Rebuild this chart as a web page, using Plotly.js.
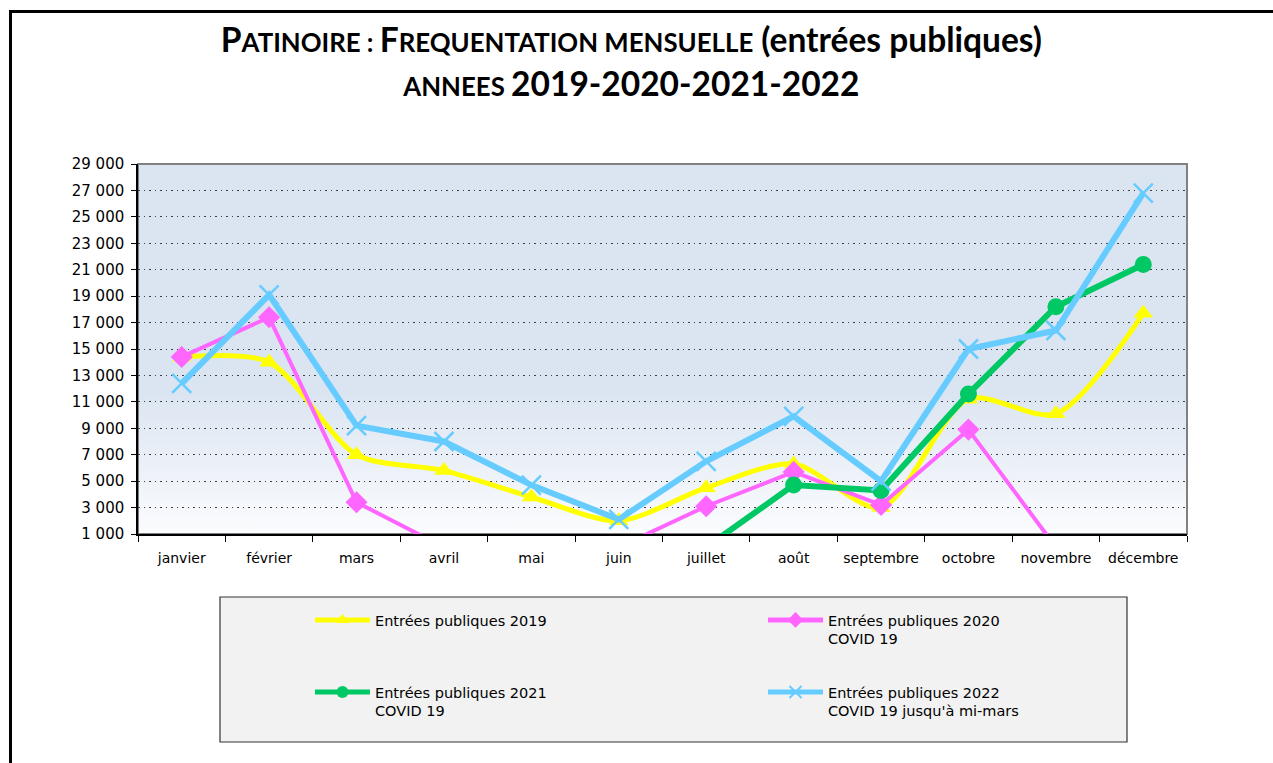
<!DOCTYPE html>
<html>
<head>
<meta charset="utf-8">
<script src="https://cdn.plot.ly/plotly-3.0.1.min.js"></script>
<style>
  html, body { margin: 0; padding: 0; background: #fff; overflow: hidden; }
  #chart { width: 1273px; height: 763px; position: absolute; left: 0; top: 0; }
  #frame { position: absolute; left: 9px; top: 10px; width: 1300px; height: 800px;
           border-left: 3px solid #000; border-top: 3px solid #000; pointer-events: none; }
</style>
</head>
<body>
<div id="chart"></div>
<div id="frame"></div>
<script>
// ---- Data ----
const months = ['janvier', 'février', 'mars', 'avril', 'mai', 'juin', 'juillet', 'août', 'septembre', 'octobre', 'novembre', 'décembre'];
const entrees2019 = [14400, 14000, 7000, 5800, 3800, 2000, 4500, 6300, 3000, 11200, 10100, 17700];
const entrees2020 = [14400, 17400, 3400, 0, 0, 0, 3100, 5700, 3200, 8900, 0, 0];
const entrees2021 = [0, 0, 0, 0, 0, 0, 0, 4700, 4300, 11600, 18200, 21400];
const entrees2022 = [12400, 19100, 9200, 8000, 4700, 2100, 6500, 9900, 5000, 15000, 16400, 26800];
const seriesNames = [
  'Entrées publiques 2019',
  'Entrées publiques 2020<br>COVID 19',
  'Entrées publiques 2021<br>COVID 19',
  'Entrées publiques 2022<br>COVID 19 jusqu\'à mi-mars'
];
const yMin = 1000, yMax = 29000, yStep = 2000;

// ---- Layout geometry (pixels) ----
const W = 1273, H = 763;
const plotL = 138, plotR = 1187, plotT = 164, plotB = 534;
const pw = plotR - plotL, ph = plotB - plotT;
const px2x = p => (p - plotL) / pw;
const px2y = p => (plotB - p) / ph;

const axisFont = { family: 'DejaVu Sans, sans-serif', size: 14, color: '#000' };
const legendFont = { family: 'DejaVu Sans, sans-serif', size: 14.5, color: '#000' };

const traces = [
  { name: seriesNames[0], x: months, y: entrees2019, type: 'scatter', mode: 'lines+markers',
    line: { color: '#ffff00', width: 5, shape: 'spline', smoothing: 0.8 },
    marker: { symbol: 'triangle-up', size: 17, color: '#ffff00' }, legend: 'legend' },
  { name: seriesNames[1], x: months, y: entrees2020, type: 'scatter', mode: 'lines+markers',
    line: { color: '#ff66ff', width: 4 },
    marker: { symbol: 'diamond', size: 17, color: '#ff66ff' }, legend: 'legend' },
  { name: seriesNames[2], x: months, y: entrees2021, type: 'scatter', mode: 'lines+markers',
    line: { color: '#00c864', width: 6 },
    marker: { symbol: 'circle', size: 17, color: '#00c864' }, legend: 'legend2' },
  { name: seriesNames[3], x: months, y: entrees2022, type: 'scatter', mode: 'lines+markers',
    line: { color: '#66ccff', width: 6 },
    marker: { symbol: 'x-thin', size: 19, color: '#66ccff', line: { color: '#66ccff', width: 2.5 } }, legend: 'legend2' }
];

const gradSvg = '<svg xmlns="http://www.w3.org/2000/svg" width="100" height="100" preserveAspectRatio="none">' +
  '<defs><linearGradient id="g" x1="0" y1="0" x2="0" y2="1">' +
  '<stop offset="0" stop-color="#dbe5f1"/><stop offset="0.62" stop-color="#dbe5f1"/>' +
  '<stop offset="1" stop-color="#fbfcfe"/></linearGradient></defs>' +
  '<rect width="100" height="100" fill="url(#g)"/></svg>';
const gradUri = 'data:image/svg+xml;base64,' + btoa(gradSvg);

const big = 33.5, small = 25.8;
const sc = t => '<span style="font-size:' + small + 'px">' + t + '</span>';
const titleText = 'P' + sc('ATINOIRE : ') + 'F' + sc('REQUENTATION MENSUELLE') + ' (entrées publiques)' +
  '<br>' + sc('ANNEES ') + '2019-2020-2021-2022';

const legendCommon = {
  orientation: 'h', xanchor: 'left', yanchor: 'top',
  bgcolor: 'rgba(0,0,0,0)', borderwidth: 0, font: legendFont,
  entrywidth: 383, entrywidthmode: 'pixels', valign: 'top',
  itemsizing: 'constant', itemwidth: 55, itemclick: false, itemdoubleclick: false
};

const layout = {
  width: W, height: H,
  margin: { l: plotL, r: W - plotR, t: plotT, b: H - plotB, pad: 0 },
  paper_bgcolor: '#ffffff',
  plot_bgcolor: 'rgba(0,0,0,0)',
  separators: ', ',
  showlegend: true,
  title: {
    text: titleText,
    font: { family: 'Lato, sans-serif', size: big, color: '#000', weight: 'bold' },
    x: 0.496, xref: 'container', xanchor: 'center',
    y: 1 - 52 / H, yref: 'container', yanchor: 'top'
  },
  xaxis: {
    type: 'category', range: [-0.5, months.length - 0.5], autorange: false,
    tickson: 'boundaries', ticks: 'outside', ticklen: 6, tickcolor: '#000', tickwidth: 1,
    showline: true, linecolor: '#000', linewidth: 1.5, showgrid: false, zeroline: false,
    tickangle: 0, tickfont: axisFont, ticklabelstandoff: 10, fixedrange: true
  },
  yaxis: {
    range: [yMin, yMax], autorange: false, tick0: yMin, dtick: yStep, ticks: 'outside', ticklen: 5, tickcolor: '#000',
    showline: true, linecolor: '#000', linewidth: 1.5, separatethousands: true, tickformat: ',d',
    showgrid: true, gridcolor: '#404040', griddash: '1.5px,4px', gridwidth: 1, zeroline: false,
    tickfont: { family: 'DejaVu Sans, sans-serif', size: 15, color: '#000' }, ticklabelstandoff: 4, fixedrange: true
  },
  images: [{
    source: gradUri, xref: 'paper', yref: 'paper', x: 0, y: 1, sizex: 1, sizey: 1,
    xanchor: 'left', yanchor: 'top', sizing: 'stretch', layer: 'below'
  }],
  shapes: [
    { type: 'rect', xref: 'paper', yref: 'paper', x0: 0, x1: 1, y0: 0, y1: 1,
      line: { color: '#808080', width: 2 }, fillcolor: 'rgba(0,0,0,0)', layer: 'below' },
    { type: 'rect', xref: 'paper', yref: 'paper',
      x0: px2x(220), x1: px2x(1127), y0: px2y(742), y1: px2y(597),
      line: { color: '#333', width: 1.2 }, fillcolor: '#f2f2f2', layer: 'below' }
  ],
  legend: Object.assign({}, legendCommon, { x: px2x(310), y: px2y(604) }),
  legend2: Object.assign({}, legendCommon, { x: px2x(310), y: px2y(676) })
};

Plotly.newPlot('chart', traces, layout, { displayModeBar: false, staticPlot: false, responsive: false });
</script>
</body>
</html>
